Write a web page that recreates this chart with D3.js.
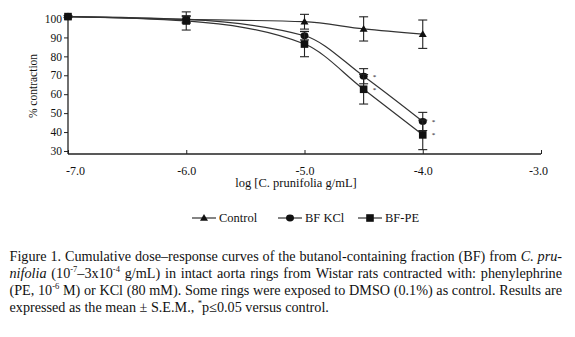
<!DOCTYPE html>
<html>
<head>
<meta charset="utf-8">
<script src="https://cdn.jsdelivr.net/npm/d3@7/dist/d3.min.js"></script>
<style>
  html, body { margin: 0; padding: 0; background: #fff; }
  svg { display: block; }
  text { font-family: "Liberation Serif", "DejaVu Serif", serif; fill: #111; }
</style>
</head>
<body>
<svg id="chart" width="575" height="337"></svg>
<script>
// ---- data ----
const doses = [-7, -6, -5, -4.5, -4];
const control = [101, 99.5, 98.3, 94.5, 91.7];
const controlErr = [0, 2, 3.9, 6.4, 7.5];
const bfKCl = [101, 99.5, 90.9, 69.5, 45.6];
const bfKClErr = [0, 1.5, 2.2, 4, 4.8];
const bfPE = [101, 98.7, 86.5, 62.6, 38.5];
const bfPEErr = [0.5, 4.8, 6.7, 7.8, 7.8];
const kclSig = [false, false, false, true, true];
const peSig = [false, false, false, true, true];
const xTicks = [-7, -6, -5, -4, -3];
const xTickLabels = ["-7.0", "-6.0", "-5.0", "-4.0", "-3.0"];
const yTicks = [30, 40, 50, 60, 70, 80, 90, 100];
const seriesNames = ["Control", "BF KCl", "BF-PE"];

const svg = d3.select("#chart");
svg.append("rect").attr("width", 575).attr("height", 337).attr("fill", "#fff");

const x = d3.scaleLinear().domain([-7, -3]).range([68, 541]);
const y = d3.scaleLinear().domain([28.4, 100]).range([154, 18.5]);
const ink = "#222";

// axes
const yAxis = d3.axisLeft(y).tickValues(yTicks).tickSize(4).tickPadding(2).tickFormat(d3.format("d"));
const gy = svg.append("g").attr("transform", `translate(${x(-7)},0)`).call(yAxis);
gy.select(".domain").remove();
gy.selectAll("line").attr("stroke", ink);
gy.selectAll("text").attr("font-size", 11.5).attr("font-family", "Liberation Serif").attr("fill", "#111");
svg.append("line").attr("x1", x(-7)).attr("x2", x(-7)).attr("y1", 14).attr("y2", y.range()[0])
  .attr("stroke", ink).attr("stroke-width", 1.3);

const xAxis = d3.axisBottom(x).tickValues(xTicks).tickSize(-4).tickPadding(12)
  .tickFormat((d, i) => xTickLabels[i]);
const gx = svg.append("g").attr("transform", `translate(0,${y.range()[0]})`).call(xAxis);
gx.select(".domain").remove();
gx.selectAll("line").attr("stroke", ink);
gx.selectAll("text").attr("font-size", 12).attr("font-family", "Liberation Serif").attr("fill", "#111");
gx.selectAll(".tick").filter((d, i) => i === 0).select("text").attr("dx", 7);
gx.selectAll(".tick").filter((d, i) => i === xTicks.length - 1).select("text").attr("dx", -3);
svg.append("line").attr("x1", x(-7)).attr("x2", x(-3)).attr("y1", y.range()[0]).attr("y2", y.range()[0])
  .attr("stroke", ink).attr("stroke-width", 1.3);

// axis titles
svg.append("text").attr("transform", "translate(37,86) rotate(-90)").attr("text-anchor", "middle")
  .attr("font-size", 11.5).text("% contraction");
svg.append("text").attr("x", 296).attr("y", 187).attr("text-anchor", "middle")
  .attr("font-size", 12.5).text("log [C. prunifolia g/mL]");

// series
const series = [
  { name: seriesNames[0], vals: control, err: controlErr, sym: "tri", sig: null },
  { name: seriesNames[1], vals: bfKCl, err: bfKClErr, sym: "circ", sig: kclSig },
  { name: seriesNames[2], vals: bfPE, err: bfPEErr, sym: "sq", sig: peSig }
];

function drawSym(g, sym, cx, cy) {
  if (sym === "tri") {
    g.append("path").attr("d", `M${cx},${cy - 4}L${cx + 4},${cy + 2.8}L${cx - 4},${cy + 2.8}Z`).attr("fill", "#111");
  } else if (sym === "circ") {
    g.append("ellipse").attr("cx", cx).attr("cy", cy).attr("rx", 4).attr("ry", 3.4).attr("fill", "#111");
  } else {
    g.append("rect").attr("x", cx - 3.8).attr("y", cy - 3.8).attr("width", 7.6).attr("height", 7.6).attr("fill", "#111");
  }
}

const line = d3.line().x((d, i) => x(doses[i])).y(d => y(d)).curve(d3.curveMonotoneX);

series.forEach(s => {
  const g = svg.append("g");
  g.append("path").attr("d", line(s.vals)).attr("fill", "none").attr("stroke", "#333").attr("stroke-width", 1.2);
  s.vals.forEach((v, i) => {
    const cx = x(doses[i]);
    const e = s.err[i];
    if (e > 0) {
      const y1 = y(v + e), y2 = y(v - e);
      g.append("line").attr("x1", cx).attr("x2", cx).attr("y1", y1).attr("y2", y2).attr("stroke", ink).attr("stroke-width", 1.1);
      g.append("line").attr("x1", cx - 4.5).attr("x2", cx + 4.5).attr("y1", y1).attr("y2", y1).attr("stroke", ink).attr("stroke-width", 1.1);
      g.append("line").attr("x1", cx - 4.5).attr("x2", cx + 4.5).attr("y1", y2).attr("y2", y2).attr("stroke", ink).attr("stroke-width", 1.1);
    }
    drawSym(g, s.sym, cx, y(v));
    if (s.sig && s.sig[i]) {
      g.append("text").attr("x", cx + 9).attr("y", y(v) + 2.5).attr("font-size", 7).text("*");
    }
  });
});

// legend
const legendY = 218;
const legendItems = [
  { x0: 192, sym: "tri", name: seriesNames[0] },
  { x0: 278, sym: "circ", name: seriesNames[1] },
  { x0: 358, sym: "sq", name: seriesNames[2] }
];
legendItems.forEach(it => {
  const g = svg.append("g");
  g.append("line").attr("x1", it.x0).attr("x2", it.x0 + 24).attr("y1", legendY).attr("y2", legendY).attr("stroke", "#333").attr("stroke-width", 1.2);
  drawSym(g, it.sym, it.x0 + 12, legendY);
  g.append("text").attr("x", it.x0 + 27).attr("y", legendY + 4).attr("font-size", 12.5).text(it.name);
});

// caption (justified)
const capFont = 14.2;
const capLines = [
  [[["Figure", "n"]], [["1.", "n"]], [["Cumulative", "n"]], [["dose–response", "n"]], [["curves", "n"]], [["of", "n"]], [["the", "n"]],
   [["butanol-containing", "n"]], [["fraction", "n"]], [["(BF)", "n"]], [["from", "n"]], [["C.", "i"]], [["pru-", "i"]]],
  [[["nifolia", "i"]], [["(10", "n"], ["-7", "s"], ["–3x10", "n"], ["-4", "s"]], [["g/mL)", "n"]], [["in", "n"]], [["intact", "n"]], [["aorta", "n"]],
   [["rings", "n"]], [["from", "n"]], [["Wistar", "n"]], [["rats", "n"]], [["contracted", "n"]], [["with:", "n"]], [["phenylephrine", "n"]]],
  [[["(PE,", "n"]], [["10", "n"], ["-6", "s"]], [["M)", "n"]], [["or", "n"]], [["KCl", "n"]], [["(80", "n"]], [["mM).", "n"]], [["Some", "n"]],
   [["rings", "n"]], [["were", "n"]], [["exposed", "n"]], [["to", "n"]], [["DMSO", "n"]], [["(0.1%)", "n"]], [["as", "n"]], [["control.", "n"]],
   [["Results", "n"]], [["are", "n"]]],
  [[["expressed", "n"]], [["as", "n"]], [["the", "n"]], [["mean", "n"]], [["±", "n"]], [["S.E.M.,", "n"]], [["*", "s"], ["p≤0.05", "n"]],
   [["versus", "n"]], [["control.", "n"]]]
];
const capLeft = 9.5, capRight = 562, capBase = 260.5, capLead = 17.1;
const capG = svg.append("g");
capLines.forEach((words, li) => {
  const by = capBase + li * capLead;
  const wordEls = words.map(w => {
    const parts = w.map(p => {
      const t = capG.append("text").attr("y", p[1] === "s" ? by - 5.5 : by)
        .attr("font-size", p[1] === "s" ? 8.5 : capFont)
        .attr("font-style", p[1] === "i" ? "italic" : "normal")
        .text(p[0]);
      return { el: t, w: t.node().getComputedTextLength() };
    });
    return { parts, w: d3.sum(parts, p => p.w) };
  });
  const total = d3.sum(wordEls, w => w.w);
  const natSpace = capFont * 0.25;
  const last = li === capLines.length - 1;
  let gap = last ? natSpace : (capRight - capLeft - total) / (wordEls.length - 1);
  if (gap < 1.5) gap = 1.5;
  let cx = capLeft;
  wordEls.forEach(w => {
    let px = cx;
    w.parts.forEach(p => { p.el.attr("x", px); px += p.w; });
    cx += w.w + gap;
  });
});
</script>
</body>
</html>
